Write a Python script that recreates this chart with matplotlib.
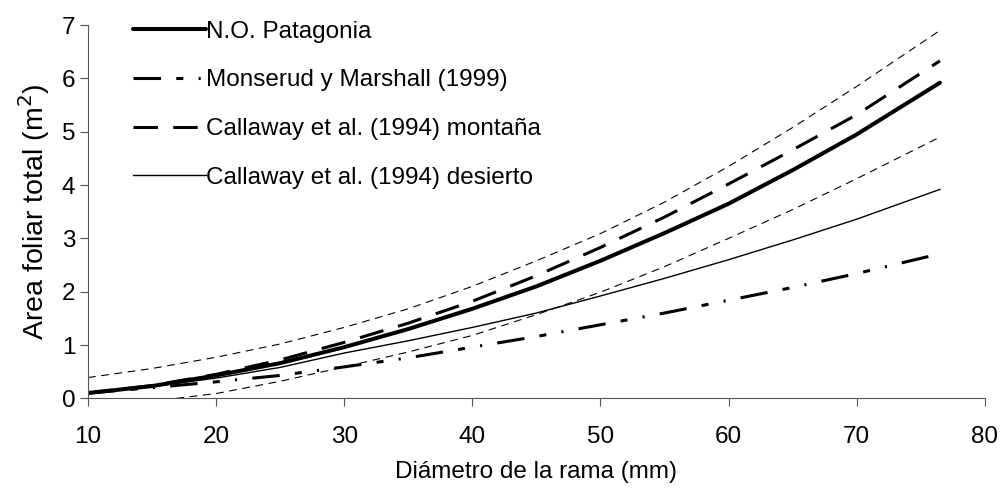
import numpy as np
import matplotlib
matplotlib.use('Agg')
from matplotlib import pyplot as plt

plt.rcParams['font.family'] = ['Liberation Sans', 'DejaVu Sans']

# diametro de la rama (mm)
d = [10, 15, 20, 25, 30, 35, 40, 45, 50, 55, 60, 65, 70, 76.5]
patagonia = [0.10, 0.23, 0.43, 0.66, 0.96, 1.30, 1.68, 2.10, 2.58, 3.10, 3.65, 4.28, 4.95, 5.92]
montana = [0.10, 0.24, 0.45, 0.72, 1.05, 1.41, 1.82, 2.30, 2.83, 3.40, 4.02, 4.66, 5.32, 6.33]
desierto = [0.10, 0.22, 0.38, 0.58, 0.85, 1.08, 1.33, 1.60, 1.92, 2.25, 2.60, 2.97, 3.36, 3.92]
sup = [0.39, 0.56, 0.77, 1.02, 1.33, 1.68, 2.10, 2.58, 3.09, 3.68, 4.35, 5.08, 5.85, 6.90]

d_mm = [10, 15, 20, 25, 30, 35, 40, 45, 50, 55, 60, 65, 70, 75.6]
monserud = [0.10, 0.20, 0.31, 0.43, 0.59, 0.76, 0.96, 1.16, 1.38, 1.60, 1.84, 2.08, 2.34, 2.66]

d_inf = [16.9, 20, 25, 30, 35, 40, 45, 50, 55, 60, 65, 70, 76.5]
inf = [0.0, 0.09, 0.32, 0.59, 0.87, 1.18, 1.57, 1.99, 2.47, 3.00, 3.54, 4.12, 4.90]

fs = 17.5

fig = plt.figure(figsize=(10.02, 4.93), dpi=100)
ax = fig.add_axes([0.0878, 0.192, 0.895, 0.757])

ax.plot(d, sup, color='k', lw=0.8, dashes=(7, 5))
ax.plot(d_inf, inf, color='k', lw=0.8, dashes=(7, 5))
l1, = ax.plot(d, patagonia, color='k', lw=2.9, solid_capstyle='round', label='N.O. Patagonia')
l2, = ax.plot(d_mm, monserud, color='k', lw=2.2, dashes=(9, 5, 2.3, 5, 0.7, 5), label='Monserud y Marshall (1999)')
l3, = ax.plot(d, montana, color='k', lw=2.2, dashes=(8, 5), label='Callaway et al. (1994) montaña')
l4, = ax.plot(d, desierto, color='k', lw=1.0, label='Callaway et al. (1994) desierto')

ax.set_xlim(10, 80)
ax.set_ylim(0, 7)
ax.set_xticks(np.arange(10, 81, 10))
ax.set_yticks(np.arange(0, 8, 1))
ax.tick_params(labelsize=fs, direction='out', length=6, color='#555555')
ax.tick_params(axis='x', pad=14)
ax.tick_params(axis='y', pad=3)
ax.spines['top'].set_color('none')
ax.spines['right'].set_color('none')
ax.spines['left'].set_color('#555555')
ax.spines['bottom'].set_color('#555555')
ax.set_xlabel('Diámetro de la rama (mm)', fontsize=fs, labelpad=9)
ax.set_ylabel('Area foliar total (m$^2$)', fontsize=20.5, labelpad=7)

ax.legend(handles=[l1, l2, l3, l4], loc='upper left', bbox_to_anchor=(0.05, 1.012),
          frameon=False, fontsize=fs, handlelength=3.0, handletextpad=0.0,
          labelspacing=1.1, borderpad=0, borderaxespad=0)

fig.savefig('out.png', dpi=100)
